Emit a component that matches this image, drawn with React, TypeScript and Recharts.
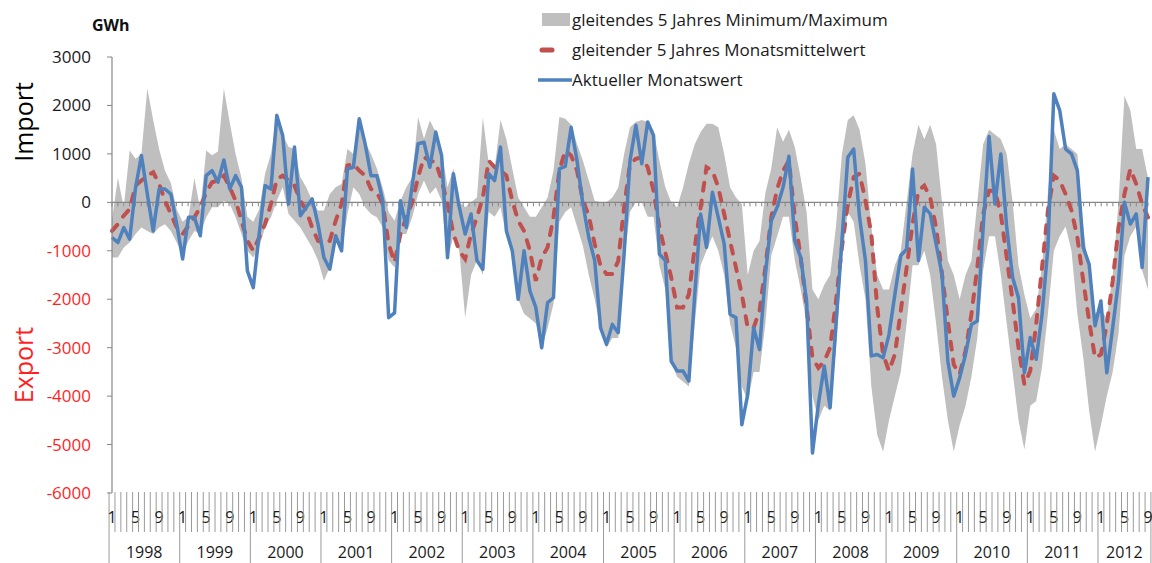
import React from 'react';
import { ComposedChart, Area, Line, XAxis, YAxis, ReferenceLine } from 'recharts';

const FONT = "'Open Sans', 'Liberation Sans', sans-serif";

const years = [1998, 1999, 2000, 2001, 2002, 2003, 2004, 2005, 2006, 2007, 2008, 2009, 2010, 2011, 2012];
const shownMonths = [1, 5, 9];
const yTicks = [3000, 2000, 1000, 0, -1000, -2000, -3000, -4000, -5000, -6000];

// Aktueller Monatswert (GWh), Jan 1998 - Sep 2012
const actual = [
  -725, -830, -520, -760, 300, 965, 170, -590, 275, 275, 170, -450,
  -1170, -310, -310, -690, 550, 655, 415, 875, 275, 550, 310, -1415,
  -1760, -655, 345, 275, 1795, 1380, -35, 1140, -275, -100, 70, -450,
  -1140, -1380, -690, -1000, 690, 725, 1725, 1210, 550, 550, 35, -2380,
  -2280, 35, -520, 345, 1210, 1240, 725, 1450, 965, -1140, 590, -100,
  -655, -240, -1200, -1380, 590, 450, 1140, -590, -1000, -2000, -1000, -1830,
  -2170, -3000, -2070, -1970, 690, 740, 1550, 860, -35, -725, -1200, -2590,
  -2930, -2520, -2690, -1070, 860, 1590, 795, 1660, 1380, -1070, -1200, -3280,
  -3480, -3480, -3690, -1900, -240, -930, 210, -310, -860, -2310, -2380, -4590,
  -3970, -2590, -3040, -1480, -380, -100, 310, 950, -795, -1140, -2035, -5175,
  -4170, -3380, -4240, -2520, -795, 930, 1100, -310, -1200, -3170, -3140, -3210,
  -2730, -1900, -1100, -965, 690, -1200, -100, -240, -860, -1480, -3280, -4000,
  -3620, -3140, -2520, -2450, -520, 1360, -35, 1000, -520, -1550, -1970, -3520,
  -2790, -3240, -2310, -930, 2240, 1900, 1100, 1000, 655, -930, -1280, -2550,
  -2035, -3520, -2590, -1620, 0, -450, -240, -1345, 520,
];

// gleitender 5 Jahres Monatsmittelwert
const mean = [
  -590, -450, -275, -140, 345, 450, 550, 620, 380, 35, -240, -520,
  -655, -480, -310, -100, 205, 415, 450, 550, 310, 35, -380, -795,
  -1000, -725, -450, -35, 480, 550, 450, 345, 35, -170, -520, -795,
  -830, -795, -380, -35, 760, 795, 655, 550, 275, 200, -35, -860,
  -1240, -655, -310, 0, 520, 930, 860, 830, 450, -35, -655, -1000,
  -1170, -655, -310, 100, 860, 725, 655, 550, 35, -380, -590, -1000,
  -1620, -1140, -930, -310, 655, 1070, 965, 655, 35, -275, -860, -1310,
  -1480, -1480, -1210, -100, 790, 900, 930, 725, 240, -520, -1035, -1550,
  -2170, -2170, -1900, -930, -100, 725, 655, 310, -240, -795, -1345, -1900,
  -2590, -2590, -2240, -1345, -310, 275, 655, 860, -310, -1140, -2170, -3210,
  -3415, -3280, -3000, -2035, -930, -35, 520, 590, 35, -655, -2170, -3140,
  -3480, -3140, -2240, -1345, -450, 240, 345, 100, -520, -1480, -2450, -3350,
  -3550, -3070, -2310, -1345, -240, 240, 240, -240, -1140, -2035, -3000, -3760,
  -3480, -2520, -1345, -170, 550, 450, 170, -170, -725, -1620, -2450, -3210,
  -3140, -2520, -1620, -520, 170, 690, 380, -35, -310,
];

// gleitendes 5 Jahres Minimum
const bandMin = [
  -1140, -1140, -930, -830, -655, -520, -590, -655, -520, -450, -590, -830,
  -1070, -795, -590, -655, -310, -100, -100, 35, -35, -310, -655, -1000,
  -1140, -930, -520, -310, 35, 310, -240, -380, -520, -725, -930, -1200,
  -1620, -1345, -795, -1000, -240, 310, 170, -100, -240, -310, -520, -1200,
  -1345, -655, -655, -310, 170, 450, 170, 310, 35, -1200, -700, -1000,
  -2380, -1500, -1200, -1500, -200, -300, -100, -700, -1100, -2000, -2300, -2400,
  -2500, -3000, -2600, -2100, -400, -200, -100, -500, -900, -1500, -2000, -2600,
  -3000, -2800, -2800, -1200, -200, 0, 0, -300, -300, -1300, -1800, -3300,
  -3600, -3700, -3800, -2500, -1300, -1000, -700, -1000, -1500, -2500, -3000, -3800,
  -4100, -3500, -3500, -2500, -1100, -700, -300, -300, -1200, -1800, -2500, -4000,
  -4500, -4200, -4300, -3000, -1200, -200, -400, -1300, -2000, -3800, -4800, -5150,
  -4500, -4000, -3500, -2500, -1300, -1300, -1000, -1500, -2500, -3600, -4500, -5150,
  -4600, -4200, -3600, -2800, -1400, -700, -700, -1500, -2500, -3500, -4500, -5100,
  -4200, -4100, -3400, -2300, -1000, -700, -500, -1000, -2300, -3200, -4300, -5150,
  -4600, -4000, -3500, -2700, -1100, -700, -500, -1400, -1800,
];

// gleitendes 5 Jahres Maximum
const bandMax = [
  -350, 500, -100, 1070, 900, 1000, 2350, 1700, 1100, 650, 400, -150,
  -400, -300, 500, -150, 1070, 970, 1050, 2350, 1650, 1000, 500, -300,
  -400, -150, 590, 1000, 1750, 1400, 1140, 1100, 520, 310, 35, -170,
  -170, 170, 310, 380, 1100, 1000, 1750, 1250, 1000, 700, 300, -200,
  -380, 35, 310, 520, 1760, 1310, 1690, 1450, 1070, 310, 700, 0,
  -100, 0, 100, 1750, 800, 700, 1700, 1300, 700, 100, -100, -300,
  -300, -100, 100, 650, 1760, 1725, 1600, 1200, 860, 450, 35, 0,
  0, 100, 300, 1000, 1550, 1660, 1700, 1660, 1480, 860, 310, 0,
  -100, 300, 800, 1200, 1450, 1620, 1620, 1550, 1000, 310, 100, -35,
  -1500, -1000, -800, 200, 700, 1550, 1250, 1500, 1140, 500, -200, -1800,
  -2000, -1700, -1500, -500, 1000, 1700, 1800, 1500, 800, -500, -1500, -1800,
  -1800, -1300, -1000, 0, 1000, 1600, 1300, 1600, 1200, 0, -1200, -1500,
  -2000, -1500, -1200, 0, 1200, 1500, 1400, 1300, 1000, 0, -1300, -1900,
  -2400, -2200, -1300, 200, 1500, 1100, 1200, 1100, 1000, -500, -1500, -2300,
  -2200, -2400, -1500, 0, 2200, 1900, 1100, 1100, 500,
];

const data = actual.map((v, i) => ({
  idx: i,
  year: years[Math.floor(i / 12)],
  month: (i % 12) + 1,
  actual: v,
  mean: mean[i],
  band: [bandMin[i], bandMax[i]],
}));

const W = 1152;
const H = 563;
const MARGIN = { top: 57, right: 4, bottom: 0, left: 0 };
const Y_AXIS_W = 112;
const X_AXIS_H = 70;
const PLOT_W = W - MARGIN.left - MARGIN.right - Y_AXIS_W;
const AXIS_GREY = '#868686';
const TICK_GREY = '#9a9a9a';

function MonthTick(props: any) {
  const { x, y, payload } = props;
  const i = Number(payload.value);
  const half = typeof payload.offset === 'number' && payload.offset > 0 ? payload.offset : PLOT_W / data.length / 2;
  const d = data[i];
  if (!d) return null;
  const left = x - half;
  const isFirst = d.month === 1;
  const isLast = i === data.length - 1;
  const nInYear = data.filter((r) => r.year === d.year).length;
  return (
    <g>
      <line x1={left} x2={left} y1={y - 1} y2={isFirst ? y + 70 : y + 39} stroke={TICK_GREY} strokeWidth={1} />
      {isLast && <line x1={x + half} x2={x + half} y1={y - 1} y2={y + 70} stroke={TICK_GREY} strokeWidth={1} />}
      {shownMonths.includes(d.month) && (
        <text x={x} y={y + 30} textAnchor="middle" fontSize={16} fontFamily={FONT} fill="#1a1a1a">
          {d.month}
        </text>
      )}
      {isFirst && (
        <text x={left + nInYear * half} y={y + 65} textAnchor="middle" fontSize={16} fontFamily={FONT} fill="#1a1a1a">
          {d.year}
        </text>
      )}
    </g>
  );
}

function ValueTick(props: any) {
  const { x, y, payload } = props;
  const v = Number(payload.value);
  return (
    <text x={x} y={y} dy="0.35em" textAnchor="end" fontSize={17} fontFamily={FONT} fill={v < 0 ? '#ff1f1f' : '#1a1a1a'}>
      {v}
    </text>
  );
}

function ZeroAxis(props: any) {
  const { x1, x2, y1 } = props;
  const n = data.length;
  const step = (x2 - x1) / n;
  const ticks = [];
  for (let k = 0; k <= n; k++) {
    const tx = x1 + k * step;
    ticks.push(<line key={k} x1={tx} x2={tx} y1={y1} y2={y1 + 4} stroke={AXIS_GREY} strokeWidth={1} />);
  }
  return (
    <g>
      <line x1={x1} x2={x2} y1={y1} y2={y1} stroke={AXIS_GREY} strokeWidth={1.2} />
      {ticks}
    </g>
  );
}

function Overlay() {
  return (
    <svg width={W} height={H} style={{ position: 'absolute', left: 0, top: 0, pointerEvents: 'none' }}>
      <text x={92} y={31} fontSize={16} fontWeight="bold" fontFamily={FONT} fill="#111">GWh</text>
      <text transform="translate(33,122) rotate(-90)" textAnchor="middle" fontSize={25} fontFamily={FONT} fill="#000">Import</text>
      <text transform="translate(33,365) rotate(-90)" textAnchor="middle" fontSize={25} fontFamily={FONT} fill="#ff1f1f">Export</text>
      <rect x={542} y={13} width={28} height={13} fill="#bfbfbf" />
      <text x={572} y={26} fontSize={17} fontFamily={FONT} fill="#1a1a1a">gleitendes 5 Jahres Minimum/Maximum</text>
      <line x1={542} x2={552} y1={50} y2={50} stroke="#c0504d" strokeWidth={5} strokeLinecap="round" />
      <text x={572} y={56} fontSize={17} fontFamily={FONT} fill="#1a1a1a">gleitender 5 Jahres Monatsmittelwert</text>
      <line x1={538} x2={572} y1={80} y2={80} stroke="#4f81bd" strokeWidth={3.5} />
      <text x={572} y={86} fontSize={17} fontFamily={FONT} fill="#1a1a1a">Aktueller Monatswert</text>
    </svg>
  );
}

export default function App() {
  return (
    <div style={{ position: 'absolute', left: 0, top: 0, width: W, height: H, background: '#fff', fontFamily: FONT }}>
      <ComposedChart width={W} height={H} data={data} margin={MARGIN}>
        <XAxis
          dataKey="idx"
          type="category"
          interval={0}
          height={X_AXIS_H}
          axisLine={false}
          tickLine={false}
          tickSize={0}
          tickMargin={0}
          tick={<MonthTick />}
        />
        <YAxis
          width={Y_AXIS_W}
          domain={[-6000, 3000]}
          ticks={yTicks}
          interval={0}
          allowDataOverflow
          axisLine={{ stroke: AXIS_GREY, strokeWidth: 1.2 }}
          tickLine={{ stroke: AXIS_GREY }}
          tickSize={5}
          tickMargin={16}
          tick={<ValueTick />}
        />
        <Area
          dataKey="band"
          type="linear"
          fill="#bfbfbf"
          fillOpacity={1}
          stroke="none"
          isAnimationActive={false}
          activeDot={false}
        />
        <ReferenceLine y={0} shape={<ZeroAxis />} />
        <Line
          dataKey="mean"
          type="linear"
          stroke="#c0504d"
          strokeWidth={4}
          strokeDasharray="8 10"
          strokeLinecap="round"
          dot={false}
          activeDot={false}
          isAnimationActive={false}
        />
        <Line
          dataKey="actual"
          type="linear"
          stroke="#4f81bd"
          strokeWidth={3.5}
          strokeLinejoin="round"
          dot={false}
          activeDot={false}
          isAnimationActive={false}
        />
      </ComposedChart>
      <Overlay />
    </div>
  );
}
